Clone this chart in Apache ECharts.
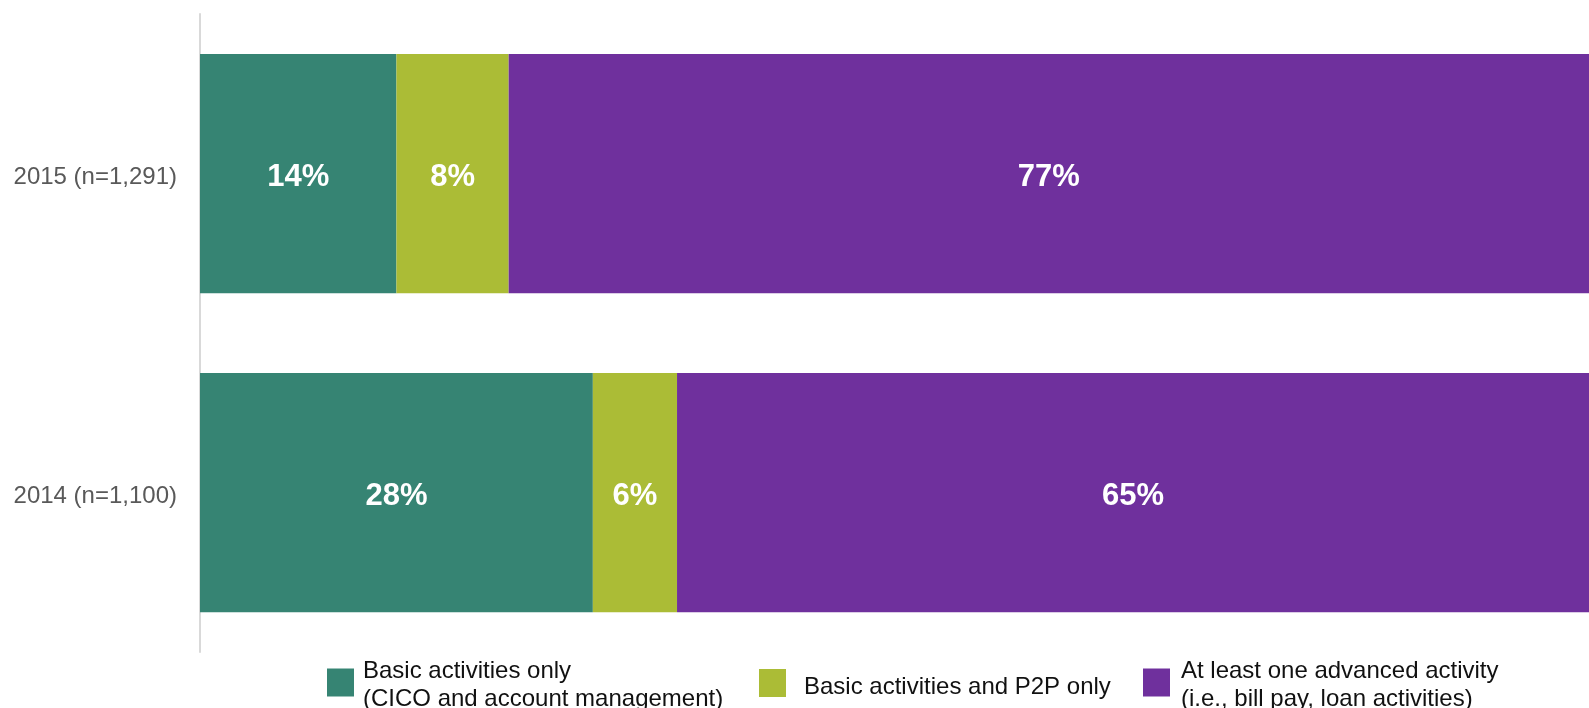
<!DOCTYPE html>
<html>
<head>
<meta charset="utf-8">
<style>
  html, body { margin: 0; padding: 0; background: #ffffff; }
  #chart { width: 1589px; height: 708px; }
</style>
<script src="https://cdn.jsdelivr.net/npm/echarts@6/dist/echarts.min.js"></script>
</head>
<body>
<div id="chart"></div>
<script>
// Survey years (top to bottom)
const years = ['2015 (n=1,291)', '2014 (n=1,100)'];

// Share of users by activity level, in percent, per year
const basicOnly = [14, 28];
const basicP2P = [8, 6];
const advanced = [77, 65];

const seriesNames = [
  'Basic activities only\n(CICO and account management)',
  'Basic activities and P2P only',
  'At least one advanced activity\n(i.e., bill pay, loan activities)'
];
const seriesColors = ['#368473', '#ABBC36', '#6F309D'];
const seriesValues = [basicOnly, basicP2P, advanced];

// each bar spans the full width: axis ends at the row total
const rowTotal = Math.max(...years.map((_, i) => basicOnly[i] + basicP2P[i] + advanced[i]));

const chart = echarts.init(document.getElementById('chart'), null, { renderer: 'canvas' });

const font = 'Liberation Sans, Arial, Helvetica, sans-serif';

function legendFor(idx, left, textPad) {
  const twoLines = seriesNames[idx].indexOf('\n') >= 0;
  const dropText = twoLines ? 6 : 8;   // nudges the text down against its swatch
  return {
    data: [seriesNames[idx]],
    left: left,
    top: twoLines ? 653.5 : 667,
    itemWidth: 27,
    itemHeight: 28,
    icon: 'rect',
    selectedMode: false,
    padding: 0,
    formatter: (name) => name.split('\n').map(line => '{t|' + line + '}').join('\n'),
    textStyle: {
      rich: {
        t: {
          fontFamily: font,
          fontSize: 24,
          color: '#111111',
          lineHeight: twoLines ? 28 : 27,
          padding: [dropText, 0, 0, textPad]
        }
      }
    }
  };
}

chart.setOption({
  animation: false,
  backgroundColor: '#ffffff',
  textStyle: { fontFamily: font },
  grid: { left: 200, right: 0, top: 14, bottom: 56, containLabel: false },
  legend: [
    legendFor(0, 327, 4),
    legendFor(1, 759, 13),
    legendFor(2, 1143, 6)
  ],
  xAxis: {
    type: 'value',
    min: 0,
    max: rowTotal,
    show: false
  },
  yAxis: {
    type: 'category',
    data: years,
    inverse: true,
    axisLine: { show: true, lineStyle: { color: '#D9D9D9', width: 2 } },
    axisTick: { show: false },
    splitLine: { show: false },
    axisLabel: {
      margin: 23,
      formatter: '{v|{value}}',
      rich: {
        v: {
          fontFamily: font,
          fontSize: 24,
          color: '#595959',
          padding: [8, 0, 0, 0]
        }
      }
    }
  },
  series: seriesNames.map((name, i) => ({
    name: name,
    type: 'bar',
    stack: 'total',
    barCategoryGap: '25%',
    data: seriesValues[i],
    itemStyle: { color: seriesColors[i] },
    label: {
      show: true,
      position: 'inside',
      offset: [0, 4],
      formatter: '{c}%',
      fontFamily: font,
      fontSize: 31,
      fontWeight: 'bold',
      color: '#ffffff'
    }
  }))
});
</script>
</body>
</html>
